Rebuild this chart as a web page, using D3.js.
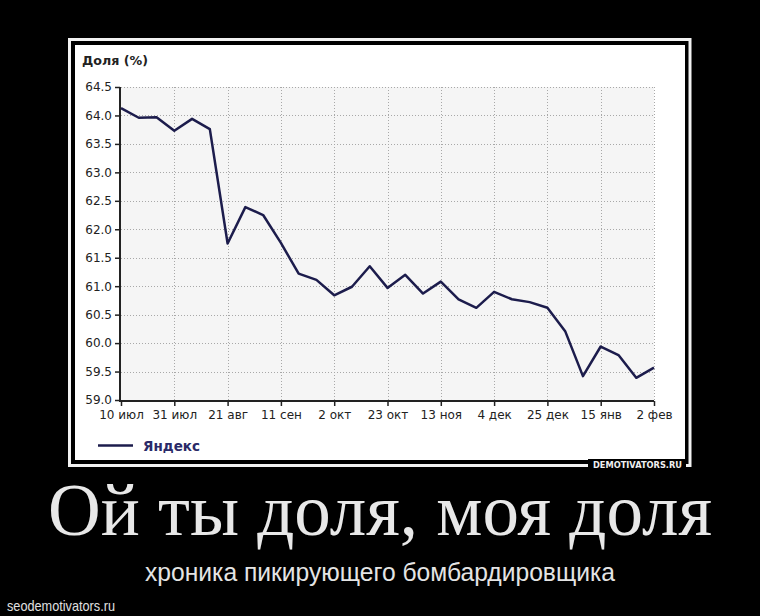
<!DOCTYPE html>
<html>
<head>
<meta charset="utf-8">
<script src="https://cdn.jsdelivr.net/npm/d3@7"></script>
<style>
  html, body { margin: 0; padding: 0; background: #000; }
  svg { display: block; }
</style>
</head>
<body>
<svg id="chart" width="760" height="616"></svg>
<script>
// ---- data ----
const weekIndex = d3.range(31);
const share = [64.13, 63.96, 63.97, 63.73, 63.94, 63.76, 61.75, 62.39, 62.25, 61.76,
               61.22, 61.11, 60.84, 60.99, 61.35, 60.97, 61.20, 60.87, 61.08, 60.77,
               60.62, 60.90, 60.77, 60.72, 60.62, 60.21, 59.42, 59.94, 59.79, 59.39, 59.57];
const tickIndex = [0, 3, 6, 9, 12, 15, 18, 21, 24, 27, 30];
const tickLabels = ["10 июл", "31 июл", "21 авг", "11 сен", "2 окт", "23 окт",
                    "13 ноя", "4 дек", "25 дек", "15 янв", "2 фев"];
const yTicks = [59.0, 59.5, 60.0, 60.5, 61.0, 61.5, 62.0, 62.5, 63.0, 63.5, 64.0, 64.5];
const seriesName = "Яндекс";
const yTitle = "Доля (%)";
const caption = "Ой ты доля, моя доля";
const subcaption = "хроника пикирующего бомбардировщика";

const svg = d3.select("#chart");
svg.append("rect").attr("width", 760).attr("height", 616).attr("fill", "#000");

// frame
svg.append("rect").attr("x", 69.5).attr("y", 39.5).attr("width", 620.5).attr("height", 426)
  .attr("fill", "none").attr("stroke", "#f2f2f2").attr("stroke-width", 3);
svg.append("rect").attr("x", 75).attr("y", 45).attr("width", 610).attr("height", 415)
  .attr("fill", "#fff");

// scales
const x = d3.scaleLinear().domain([0, 30]).range([121, 654]);
const y = d3.scaleLinear().domain([59, 64.5]).range([400, 87]);

// plot background
svg.append("rect").attr("x", x(0)).attr("y", y(64.5))
  .attr("width", x(30) - x(0)).attr("height", y(59) - y(64.5)).attr("fill", "#f5f5f5");

// grid
const grid = svg.append("g").attr("stroke", "#a8a8a8").attr("stroke-width", 1)
  .attr("stroke-dasharray", "1,2");
grid.selectAll(".hg").data(yTicks.filter(v => v > 59)).join("line")
  .attr("x1", x(0)).attr("x2", x(30))
  .attr("y1", d => Math.round(y(d)) + 0.5).attr("y2", d => Math.round(y(d)) + 0.5);
grid.selectAll(".vg").data(tickIndex.filter(v => v > 0)).join("line")
  .attr("y1", y(64.5)).attr("y2", y(59))
  .attr("x1", d => Math.round(x(d)) + 0.5).attr("x2", d => Math.round(x(d)) + 0.5);

// axes
const yAxis = d3.axisLeft(y).tickValues(yTicks).tickFormat(d3.format(".1f")).tickSize(5).tickPadding(3);
const gy = svg.append("g").attr("transform", `translate(${x(0) - 1},0)`).call(yAxis);
const xAxis = d3.axisBottom(x).tickValues(tickIndex)
  .tickFormat((d, i) => tickLabels[i]).tickSize(5).tickPadding(4);
const gx = svg.append("g").attr("transform", `translate(0,${y(59) + 1})`).call(xAxis);
[gx, gy].forEach(g => {
  g.selectAll("path").attr("stroke", "#222").attr("stroke-width", 2);
  g.selectAll("line").attr("stroke", "#222").attr("stroke-width", 1.5);
  g.selectAll("text").attr("font-family", "DejaVu Sans").attr("font-size", 12).attr("fill", "#222");
});
gx.select("path").attr("d", `M${x(0) - 2},0H${x(30)}`);
gy.select("path").attr("d", `M0,${y(64.5)}V${y(59) + 2}`);

// line
const line = d3.line().x((d, i) => x(weekIndex[i])).y(d => y(d));
svg.append("path").datum(share).attr("d", line)
  .attr("fill", "none").attr("stroke", "#1c1c4c").attr("stroke-width", 2.5)
  .attr("stroke-linejoin", "round");

// y title
svg.append("text").attr("x", 82).attr("y", 65).text(yTitle)
  .attr("font-family", "DejaVu Sans").attr("font-weight", "bold").attr("font-size", 13)
  .attr("textLength", 66).attr("lengthAdjust", "spacingAndGlyphs")
  .attr("fill", "#222");

// legend
svg.append("line").attr("x1", 98).attr("x2", 133).attr("y1", 445.5).attr("y2", 445.5)
  .attr("stroke", "#1c1c4c").attr("stroke-width", 2.5);
svg.append("text").attr("x", 143).attr("y", 450.5).text(seriesName)
  .attr("font-family", "DejaVu Sans").attr("font-weight", "bold").attr("font-size", 14)
  .attr("textLength", 57).attr("lengthAdjust", "spacingAndGlyphs")
  .attr("fill", "#2a2a68");

// watermark on frame
svg.append("rect").attr("x", 588).attr("y", 459).attr("width", 98).attr("height", 12).attr("fill", "#000");
svg.append("text").attr("x", 593).attr("y", 467.5).text("DEMOTIVATORS.RU")
  .attr("font-family", "DejaVu Sans").attr("font-weight", "bold").attr("font-size", 8)
  .attr("textLength", 89).attr("lengthAdjust", "spacingAndGlyphs").attr("fill", "#f0f0f0");

// captions
svg.append("text").attr("x", 380).attr("y", 535).attr("text-anchor", "middle").text(caption)
  .attr("font-family", "Liberation Serif").attr("font-size", 73)
  .attr("textLength", 664).attr("lengthAdjust", "spacingAndGlyphs").attr("fill", "#e8e8e8");
svg.append("text").attr("x", 380).attr("y", 581).attr("text-anchor", "middle").text(subcaption)
  .attr("font-family", "Liberation Sans").attr("font-size", 25)
  .attr("textLength", 470).attr("lengthAdjust", "spacingAndGlyphs").attr("fill", "#e4e4e4");
svg.append("text").attr("x", 7).attr("y", 611).text("seodemotivators.ru")
  .attr("font-family", "Liberation Sans").attr("font-size", 15)
  .attr("textLength", 108).attr("lengthAdjust", "spacingAndGlyphs").attr("fill", "#e0e0e0");
</script>
</body>
</html>
